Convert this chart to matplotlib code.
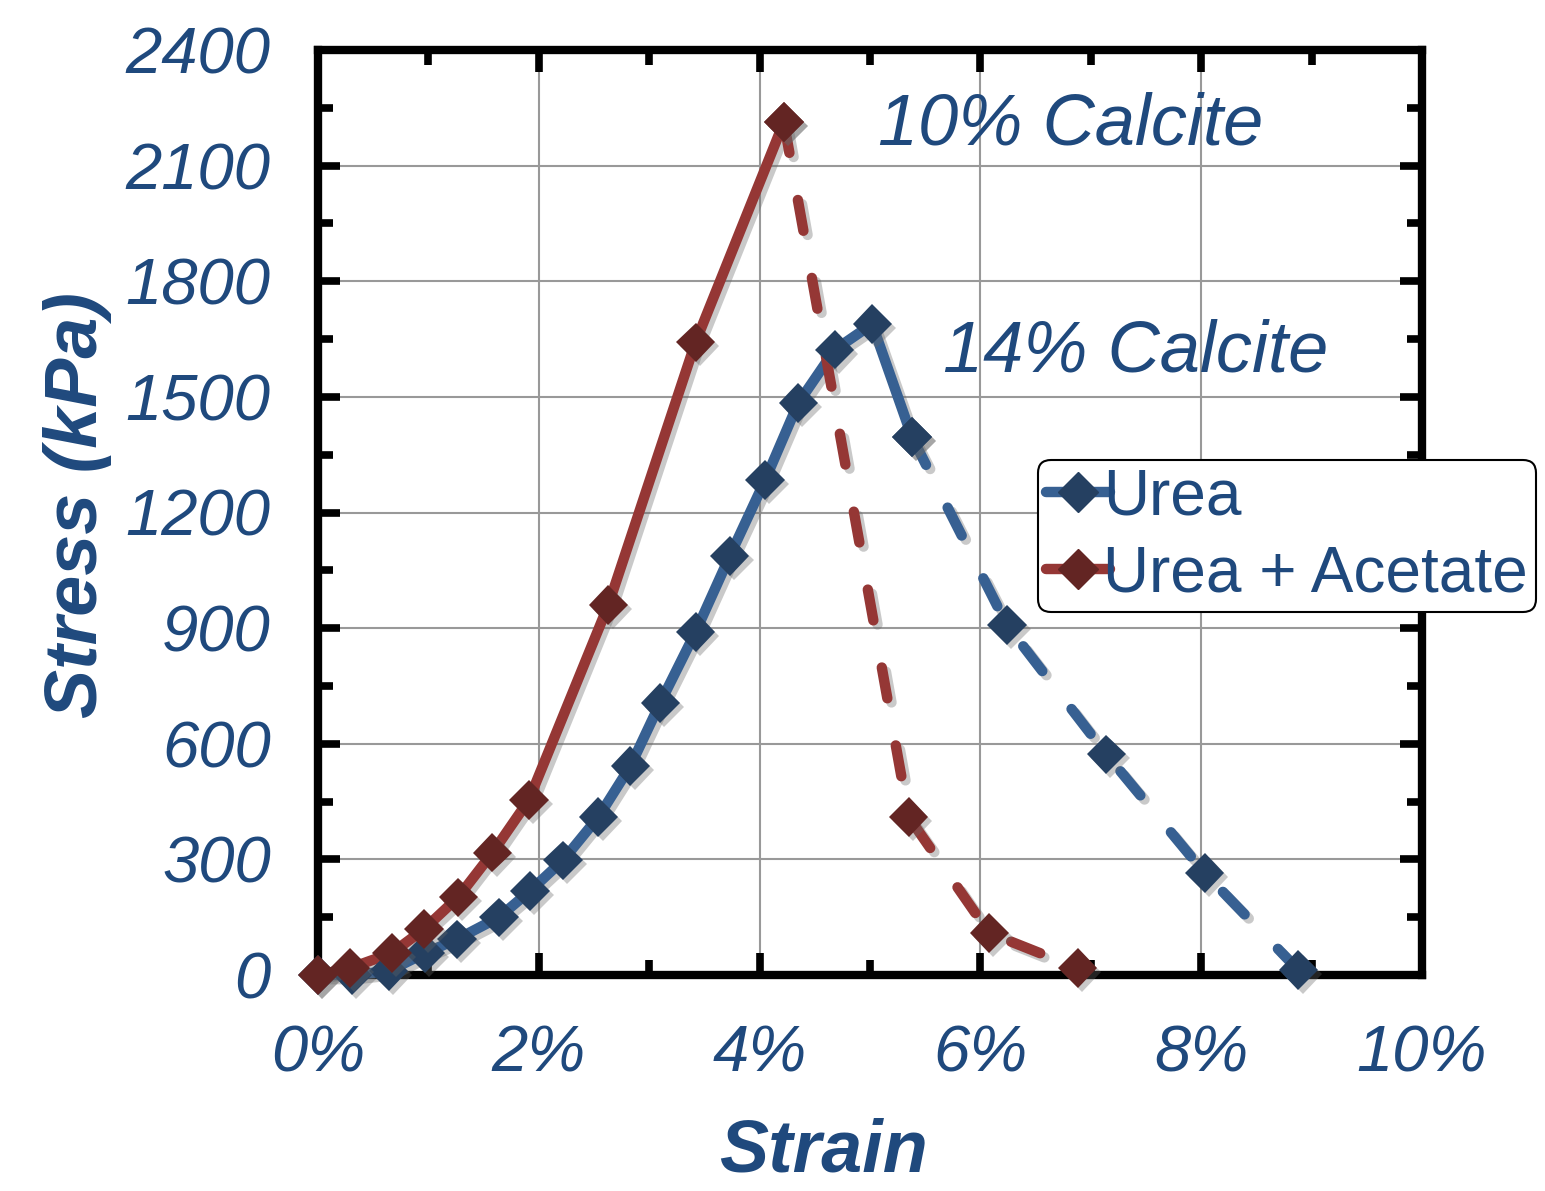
import matplotlib
matplotlib.use("Agg")
import matplotlib.pyplot as plt
import matplotlib.patheffects as pe
from matplotlib.lines import Line2D
from matplotlib.ticker import MultipleLocator, FuncFormatter

# Urea series: strain (%) and stress (kPa)
urea_strain = [0.0, 0.31, 0.64, 0.97, 1.26, 1.64, 1.92, 2.22, 2.54, 2.83, 3.10,
               3.42, 3.73, 4.05, 4.35, 4.68, 5.02, 5.38]
urea_stress = [0, 0, 10, 57, 93, 150, 218, 298, 410, 542, 706,
               890, 1087, 1284, 1484, 1622, 1689, 1396]
urea_post_strain = [5.38, 6.24, 7.14, 8.03, 8.88]
urea_post_stress = [1396, 908, 573, 265, 13]

# Urea + Acetate series
acet_strain = [0.0, 0.29, 0.67, 0.96, 1.27, 1.58, 1.91, 2.63, 3.42, 4.22]
acet_stress = [0, 18, 57, 119, 202, 317, 454, 960, 1642, 2213]
acet_post_strain = [4.22, 5.35, 6.08, 6.88]
acet_post_stress = [2213, 410, 109, 18]

labels = ["Urea", "Urea + Acetate"]
annotations = [("10% Calcite", 5.07, 2154), ("14% Calcite", 5.66, 1565)]

txt_col = "#1F497D"
blue_line, blue_mark = "#376092", "#254061"
red_line, red_mark = "#953735", "#632523"
font = "Liberation Sans"

fig = plt.figure(figsize=(15.45, 11.91), dpi=100)
ax = fig.add_axes([318 / 1545, 216 / 1191, 1104 / 1545, 925 / 1191])

line_fx = [pe.SimpleLineShadow(offset=(3, -3), shadow_color="0.4", alpha=0.35), pe.Normal()]
mark_fx = [pe.SimplePatchShadow(offset=(3, -3), shadow_rgbFace="0.4", alpha=0.35), pe.Normal()]
lw = 7.5
ms = 20
dash = (3, 4.6)


def draw_series(x, y, xp, yp, lc, mc):
    ax.plot(x, y, color=lc, lw=lw, solid_capstyle="round", solid_joinstyle="round",
            path_effects=line_fx, zorder=3, clip_on=False)
    ax.plot(xp, yp, color=lc, lw=lw, dashes=dash, dash_capstyle="round",
            path_effects=line_fx, zorder=3, clip_on=False)
    ax.plot(x + xp, y + yp, ls="none", marker="D", ms=ms, mfc=mc, mec=mc, mew=0,
            path_effects=mark_fx, zorder=4, clip_on=False)


draw_series(urea_strain, urea_stress, urea_post_strain, urea_post_stress, blue_line, blue_mark)
draw_series(acet_strain, acet_stress, acet_post_strain, acet_post_stress, red_line, red_mark)

ax.set_xlim(0, 10)
ax.set_ylim(0, 2400)
ax.xaxis.set_major_locator(MultipleLocator(2))
ax.xaxis.set_minor_locator(MultipleLocator(1))
ax.yaxis.set_major_locator(MultipleLocator(300))
ax.yaxis.set_minor_locator(MultipleLocator(150))
ax.xaxis.set_major_formatter(FuncFormatter(lambda v, p: f"{v:.0f}%"))
ax.grid(True, which="major", color="#999999", lw=1.5)
ax.set_axisbelow(True)

ax.tick_params(which="both", direction="in", top=True, right=True, color="black")
ax.tick_params(which="major", length=16, width=5.5, labelsize=47, labelcolor=txt_col)
ax.tick_params(axis="x", which="major", pad=36)
ax.tick_params(axis="y", which="major", pad=34)
ax.tick_params(which="minor", length=11, width=5.5)
for lab in ax.get_xticklabels() + ax.get_yticklabels():
    lab.set_fontstyle("italic")
    lab.set_fontfamily(font)
for s in ax.spines.values():
    s.set_linewidth(6)

fig.text(823 / 1545, 1 - 1152 / 1191, "Strain", fontsize=53, fontweight="bold",
         fontstyle="italic", family=font, color=txt_col, ha="center", va="center")
fig.text(78 / 1545, 1 - 505 / 1191, "Stress (kPa)", fontsize=53, fontweight="bold",
         fontstyle="italic", family=font, color=txt_col, ha="center", va="center",
         rotation=90)

for text, xv, yv in annotations:
    ax.text(xv, yv, text, fontsize=52, fontstyle="italic", family=font,
            color=txt_col, va="baseline", ha="left", zorder=5)

handles = [
    Line2D([], [], color=blue_line, lw=lw, solid_capstyle="round", marker="D",
           ms=ms, mfc=blue_mark, mec=blue_mark),
    Line2D([], [], color=red_line, lw=lw, solid_capstyle="round", marker="D",
           ms=ms, mfc=red_mark, mec=red_mark),
]
leg = fig.legend(handles, labels, loc="upper left", bbox_to_anchor=(1038 / 1545, 1 - 460 / 1191),
                 prop={"family": font, "size": 46}, handlelength=1.0, handletextpad=-0.1,
                 borderpad=0.12, labelspacing=0.26, borderaxespad=0, frameon=True,
                 fancybox=True, framealpha=1, edgecolor="black")
leg.get_frame().set_linewidth(1.5)
for t in leg.get_texts():
    t.set_color(txt_col)

fig.savefig("out.png", dpi=100)
